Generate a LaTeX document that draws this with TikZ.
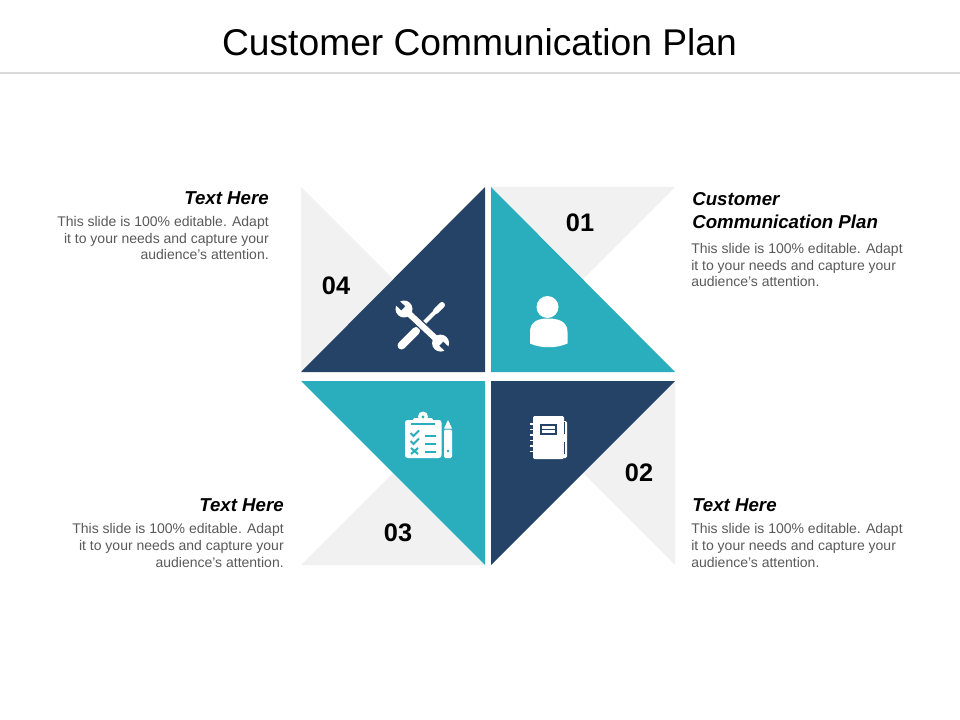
\documentclass[tikz,border=0pt]{standalone}
\usepackage{fontspec}
\setmainfont{Liberation Sans}
\definecolor{navyfill}{HTML}{244366}
\definecolor{tealfill}{HTML}{2AAEBE}
\definecolor{greyfill}{HTML}{F1F1F1}
\definecolor{rulegrey}{HTML}{DADADA}
\definecolor{bodygrey}{HTML}{595959}
\tikzset{
	headtext/.style={inner sep=0pt,font=\fontsize{14pt}{17.2pt}\selectfont\bfseries\itshape},
	bodytext/.style={inner sep=0pt,text=bodygrey,font=\fontsize{10.5pt}{12.5pt}\selectfont},
	numtext/.style={inner sep=0pt,font=\fontsize{19pt}{22pt}\selectfont\bfseries},
	whitepart/.style={fill=white,draw=none}
}
\begin{document}
\begin{tikzpicture}[x=0.75pt,y=-0.75pt]
	\useasboundingbox (0,0) rectangle (960,720);
	\node (title) at (479.5,42) {\fontsize{27.9pt}{32pt}\selectfont Customer Communication Plan};
	\draw[rulegrey,line width=2pt] (0,73) -- (960,73);

	\fill[greyfill] (301,187) -- (301,372) -- (393.5,279.5) -- cycle;
	\fill[greyfill] (491,187) -- (675,187) -- (583,279) -- cycle;
	\fill[greyfill] (675,381) -- (675,565) -- (583,473) -- cycle;
	\fill[greyfill] (301,565) -- (485,565) -- (393,473) -- cycle;
	\fill[navyfill] (301,372) -- (485,372) -- (485,187) -- cycle;
	\fill[tealfill] (491,187) -- (491,372) -- (675,372) -- cycle;
	\fill[navyfill] (491,381) -- (675,381) -- (491,565) -- cycle;
	\fill[tealfill] (301,381) -- (485,381) -- (485,565) -- cycle;

	\node[numtext] (num1) at (580,223) {01};
	\node[numtext] (num2) at (639,473) {02};
	\node[numtext] (num3) at (398,533) {03};
	\node[numtext] (num4) at (336,286) {04};

	\node[headtext,anchor=east] (head4) at (269,198) {Text Here};
	\node[bodytext,anchor=north east,align=right] (body4) at (269,216) {This slide is 100\% editable. Adapt\\it to your needs and capture your\\audience's attention.};
	\node[headtext,anchor=north west,align=left] (head1) at (692,192) {Customer\\Communication Plan};
	\node[bodytext,anchor=north west,align=left] (body1) at (691,243) {This slide is 100\% editable. Adapt\\it to your needs and capture your\\audience's attention.};
	\node[headtext,anchor=east] (head3) at (284,505) {Text Here};
	\node[bodytext,anchor=north east,align=right] (body3) at (284,523.5) {This slide is 100\% editable. Adapt\\it to your needs and capture your\\audience's attention.};
	\node[headtext,anchor=west] (head2) at (692,505) {Text Here};
	\node[bodytext,anchor=north west,align=left] (body2) at (691,523.5) {This slide is 100\% editable. Adapt\\it to your needs and capture your\\audience's attention.};

	\draw[white,line width=6pt,line cap=round] (401.5,345.5) -- (416,331);
	\draw[white,line width=3pt] (416,331) -- (436,311);
	\draw[white,line width=4.5pt,line cap=round] (436,311) -- (442,305);
	\begin{scope}[shift={(404,309)},rotate=-43]
		\draw[navyfill,line width=6.5pt] (6,0) -- (44,0);
		\fill[whitepart] (0,0) circle (8.5);
		\fill[whitepart] (50,0) circle (8.5);
		\draw[white,line width=4.6pt] (4,0) -- (46,0);
		\fill[navyfill] (-10,-2.8) rectangle (-1,2.8);
		\fill[navyfill] (51,-2.8) rectangle (60,2.8);
	\end{scope}

	\fill[whitepart] (547.5,307) circle (11);
	\fill[whitepart] (530,343.5) -- (530,332) .. controls (530,323) and (536,318.5) .. (548,318.5)
		.. controls (561,318.5) and (567.5,323) .. (567.5,332) -- (567.5,343.5)
		.. controls (556,348.5) and (541,348.5) .. (530,343.5) -- cycle;

	\fill[whitepart,rounded corners=2pt] (405,420) rectangle (441.5,458);
	\fill[whitepart] (423,416.5) circle (5);
	\fill[whitepart,rounded corners=1pt] (413,418) rectangle (433,424);
	\fill[tealfill] (423,417) circle (1.6);
	\draw[tealfill,line width=1pt] (411,424) -- (435,424);
	\draw[tealfill,line width=1.5pt] (410.5,433) -- (413.5,436) -- (419,430.5);
	\draw[tealfill,line width=1.5pt] (410.5,441) -- (413.5,444) -- (419,438.5);
	\draw[tealfill,line width=1.5pt] (411,448) -- (418,454) (418,448) -- (411,454);
	\draw[tealfill,line width=1.5pt] (425,435.5) -- (436,435.5);
	\draw[tealfill,line width=1.5pt] (425,443.5) -- (436,443.5);
	\draw[tealfill,line width=1.5pt] (425,451.5) -- (436,451.5);
	\fill[whitepart] (444,428.5) -- (448,420) -- (452,428.5) -- cycle;
	\fill[whitepart,rounded corners=1pt] (444,429.5) rectangle (452,458);
	\fill[tealfill] (448,451) circle (1.3);

	\fill[whitepart,rounded corners=1pt] (533,416) rectangle (564,459);
	\fill[whitepart,rounded corners=1pt] (562,421) rectangle (567,458);
	\draw[navyfill,line width=1.1pt] (564.5,422) -- (564.5,434);
	\draw[navyfill,line width=1.1pt] (564.5,442) -- (564.5,454);
	\draw[white,line width=1.4pt] (530,424) -- (534,424);
	\draw[white,line width=1.4pt] (530,429.5) -- (534,429.5);
	\draw[white,line width=1.4pt] (530,435) -- (534,435);
	\draw[white,line width=1.4pt] (530,440.5) -- (534,440.5);
	\draw[white,line width=1.4pt] (530,446) -- (534,446);
	\draw[white,line width=1.4pt] (530,451.5) -- (534,451.5);
	\draw[navyfill,line width=1.1pt] (541,425) rectangle (556,434);
	\draw[navyfill,line width=0.9pt] (541,429.5) -- (556,429.5);
\end{tikzpicture}
\end{document}
